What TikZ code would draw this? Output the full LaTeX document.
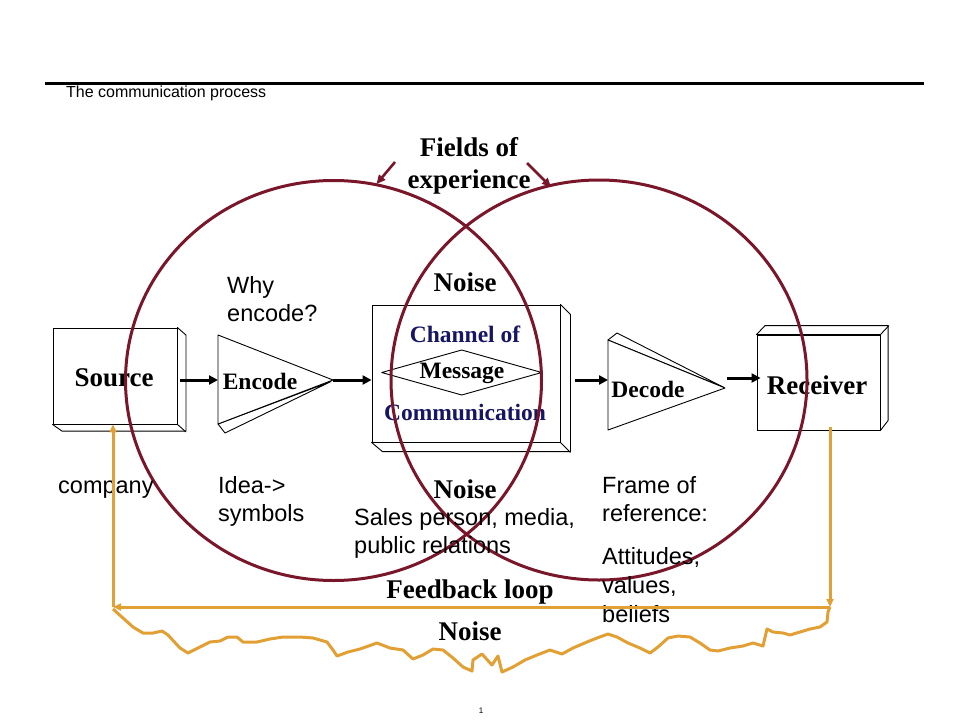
\documentclass[tikz,border=0pt]{standalone}
\usepackage{fontspec}
\setmainfont{Liberation Serif}
\setsansfont{Liberation Sans}
\usetikzlibrary{arrows.meta,calc}
\definecolor{ringred}{RGB}{122,22,42}
\definecolor{fborange}{RGB}{226,160,52}
\definecolor{navyblue}{RGB}{22,22,100}
\begin{document}
\begin{tikzpicture}[x=1pt,y=-1pt,
  boxface/.style={draw,line width=0.9pt,fill=white,inner sep=0pt},
  bigb/.style={font=\fontsize{27}{30}\selectfont\bfseries,inner sep=0pt},
  midb/.style={font=\fontsize{23.5}{26}\selectfont\bfseries,inner sep=0pt},
  lbl/.style={font=\sffamily\fontsize{23.5}{28}\selectfont,align=left,anchor=north west,inner sep=0pt},
  flow/.style={line width=3pt,-{Triangle[length=9pt,width=9pt]}},
  ring/.style={draw=ringred,line width=3pt},
  fb/.style={draw=fborange,line width=3pt,line join=round},
  fbarrow/.style={fb,-{Triangle[length=8pt,width=7pt]}},
  edge3d/.style={line width=0.9pt,line join=round}]
\useasboundingbox (0,0) rectangle (960,720);
\fill[white] (0,0) rectangle (960,720);

% header
\coordinate (hl) at (45,83);
\coordinate (hr) at (924,83);
\draw[line width=3pt] (hl) -- (hr);
\node[font=\sffamily\fontsize{16}{18}\selectfont,anchor=base west,inner sep=0pt] (title) at (66,97.5) {The communication process};

% Source box
\node[boxface,minimum width=124pt,minimum height=96pt] (src) at (115,376) {};
\draw[edge3d,fill=white] (src.north east) -- ++(8.5,7.5) -- ++(0,96) -- ++(-124,0) -- (src.south west) -- (src.south east) -- cycle;
\draw[edge3d] (src.south east) -- ++(8.5,7.5);
\node[bigb] (srct) at (114,378) {Source};

% Encode triangle
\coordinate (encA) at (218,335);
\coordinate (encB) at (218,424);
\coordinate (encT) at (333,380);
\draw[edge3d,fill=white] (encB) -- (225,433) -- (331,381.5) -- cycle;
\draw[edge3d,fill=white] (encA) -- (encT) -- (encB) -- cycle;
\node[midb] (enc) at (260,381) {Encode};
\coordinate (encL) at (218,380);

% Channel box
\node[boxface,minimum width=188pt,minimum height=137pt] (chan) at (466,373.5) {};
\draw[edge3d,fill=white] (chan.north east) -- ++(10,10) -- ++(0,137) -- ++(-188,0) -- (chan.south west) -- (chan.south east) -- cycle;
\draw[edge3d] (chan.south east) -- ++(10,10);
\node[midb,text=navyblue] (chan1) at (465,334) {Channel of};
\draw[edge3d] (381.7,372.5) -- (461.7,350) -- (541.7,372.5) -- (461.7,395) -- cycle;
\node[midb] (msg) at (462,373) {Message};
\node[midb,text=navyblue] (chan2) at (465,412) {Communication};

% Decode triangle
\coordinate (decA) at (608,340);
\coordinate (decB) at (608,430);
\coordinate (decT) at (725,388);
\draw[edge3d,fill=white] (decA) -- (617,333) -- (724,387.5) -- cycle;
\draw[edge3d,fill=white] (decA) -- (decT) -- (decB) -- cycle;
\node[midb] (dec) at (648,389) {Decode};

% Receiver box
\node[boxface,minimum width=123pt,minimum height=95pt] (rcv) at (818.5,382.5) {};
\draw[edge3d,fill=white] (rcv.north west) -- ++(8.5,-9) -- ++(123,0) -- ++(0,95) -- (rcv.south east) -- (rcv.north east) -- cycle;
\draw[edge3d] (rcv.north east) -- ++(8.5,-9);
\node[bigb] (rcvt) at (817,385) {Receiver};

% flow arrows
\draw[flow] ($(src.east |- encL)+(3,0)$) -- (encL);
\draw[flow] (encT) -- (chan.west |- encT);
\draw[flow] ($(chan.east |- encT)+(15,0)$) -- (decA |- encT);
\coordinate (dr) at (727,378);
\draw[flow] (dr) -- ($(rcv.west |- dr)+(4,0)$);

% Fields of experience circles
\draw[ring] (333.5,380.5) ellipse [x radius=208, y radius=200];
\draw[ring] (599,380) ellipse [x radius=208, y radius=200];
\node[bigb,align=center,font=\fontsize{27}{32}\selectfont\bfseries] (foe) at (469,166) {Fields of\\experience};
\coordinate (lt) at (376.5,184);
\coordinate (rt) at (551,187);
\draw[ring,line width=2.6pt,-{Triangle[length=9pt,width=8pt]}] (395,162) -- (lt);
\draw[ring,line width=2.6pt,-{Triangle[length=9pt,width=8pt]}] (527,163) -- (rt);

% labels
\node[bigb] (noise1) at (465,282) {Noise};
\node[bigb] (noise2) at (465,489) {Noise};
\node[lbl] (why) at (227,276.6) {Why\\encode?};
\node[font=\sffamily\fontsize{23.5}{28}\selectfont,anchor=base west,inner sep=0pt] (comp) at (58,493) {company};
\node[lbl] (idea) at (218,476.6) {Idea->\\symbols};
\node[lbl] (sales) at (354,508.6) {Sales person, media,\\public relations};
\node[lbl] (frame) at (602,476.6) {Frame of\\reference:};
\node[lbl,font=\sffamily\fontsize{23.5}{29}\selectfont] (att) at (602,547.6) {Attitudes,\\values,\\beliefs};

% feedback loop
\coordinate (fbR) at (830,607);
\coordinate (fbL) at (113,607);
\draw[fbarrow] ($(rcv.south -| fbR)+(0,-3)$) -- (fbR);
\draw[fbarrow] (fbR) -- (fbL);
\draw[fbarrow] (fbL) -- (src.south -| fbL);
\node[bigb] (fbt) at (470,592) {Feedback loop};
\node[bigb] (noise3) at (470,631) {Noise};
\draw[fb] (113,609) -- (123,618) -- (133,627) -- (143,633) -- (153,633) -- (162,631) -- (168,635)
  -- (180,648) -- (188,653) -- (200,647) -- (210,642) -- (220,641) -- (228,637) -- (237,637)
  -- (243,642) -- (257,642) -- (270,639) -- (283,637) -- (300,637) -- (313,638) -- (327,642)
  -- (333,650) -- (337,656) -- (348,652) -- (360,649) -- (377,643) -- (390,648) -- (403,650)
  -- (413,659) -- (423,655) -- (433,649) -- (443,650) -- (453,658) -- (463,667) -- (472,671)
  -- (473,660) -- (482,654) -- (492,665) -- (498,656) -- (502,672) -- (513,667) -- (525,660)
  -- (537,655) -- (550,650) -- (562,654) -- (573,648) -- (587,642) -- (597,638) -- (608,634)
  -- (617,637) -- (628,643) -- (640,648) -- (650,653) -- (658,647) -- (668,638) -- (678,636)
  -- (690,637) -- (700,643) -- (710,650) -- (718,651) -- (730,648) -- (743,646) -- (753,643)
  -- (763,646) -- (767,629) -- (773,632) -- (783,633) -- (790,635) -- (800,632) -- (810,629)
  -- (820,627) -- (827,622) -- (828,612) -- (830,607);

% page number
\node[font=\sffamily\fontsize{8}{9}\selectfont,inner sep=0pt] (pg) at (481,711) {1};
\end{tikzpicture}
\end{document}
